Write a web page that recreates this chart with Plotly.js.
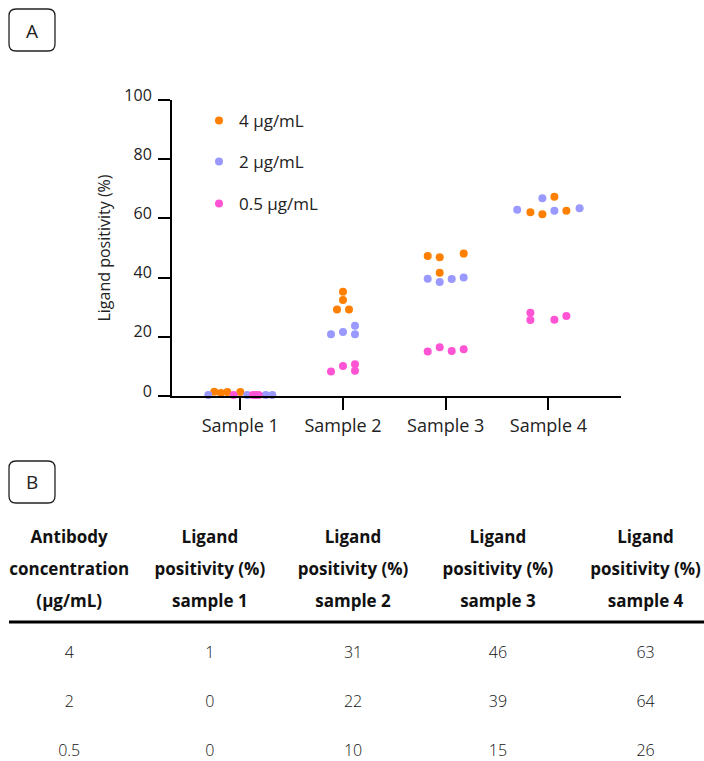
<!DOCTYPE html>
<html>
<head>
<meta charset="utf-8">
<script src="https://cdn.plot.ly/plotly-3.0.1.min.js"></script>
<style>
html,body{margin:0;padding:0;background:#fff;overflow:hidden}
#wrap{width:704px;height:761px;overflow:hidden;position:relative;background:#fff}
#chart{width:722px;height:790px}
#err{position:absolute;left:10px;top:680px;color:red;font:12px monospace}
</style>
</head>
<body>
<div id="wrap"><div id="chart"></div><div id="err"></div></div>
<script>
// ---------- data ----------
const samples = ["Sample 1", "Sample 2", "Sample 3", "Sample 4"];
const concLabels = ["4 µg/mL", "2 µg/mL", "0.5 µg/mL"];
const yTicks = [0, 20, 40, 60, 80, 100];

// ligand positivity (%) per sample, 4 replicates each
const pos4  = [[1.45, 1.0, 1.35, 1.35], [35.2, 32.4, 29.2, 29.2], [47.3, 46.9, 48.1, 41.6], [67.3, 62.1, 61.4, 62.6]];
const pos2  = [[0.3, 0.3, 0.3, 0.3],    [20.9, 21.6, 23.75, 20.9], [39.6, 38.5, 39.5, 40.0], [66.8, 62.9, 62.6, 63.4]];
const pos05 = [[0.3, 0.3, 0.3, 0.3],    [8.3, 10.1, 10.7, 8.5],    [15.0, 16.5, 15.2, 15.8], [28.1, 25.7, 25.8, 27.0]];

// swarm slot of each replicate (horizontal spread, in point widths)
const swarm4  = [[-2.17, -1.61, -1.08, 0], [0, 0, -0.5, 0.5], [-1.5, -0.5, 1.5, -0.5], [0.5, -1.5, -0.5, 1.5]];
const swarm2  = [[-2.67, 0.58, 2.12, 2.67], [-1, 0, 1, 1], [-1.5, -0.5, 0.5, 1.5], [-0.5, -2.6, 0.5, 2.6]];
const swarm05 = [[-0.55, 1.06, 1.28, 1.53], [-1, 0, 1, 1], [-1.5, -0.5, 0.5, 1.5], [-1.5, -1.5, 0.5, 1.5]];

// summary table
const NB = "\u00a0";
const tableHeader = [
  ["Antibody", "concentration", "(µg/mL)"],
  ["Ligand", "positivity (%)", "sample 1"],
  ["Ligand", "positivity (%)", "sample 2"],
  ["Ligand", "positivity (%)", "sample 3"],
  ["Ligand", "positivity (%)", "sample 4"]
];
const tableConc = ["4", "2", "0.5"];
const tableS1 = [1, 0, 0];
const tableS2 = [31, 22, 10];
const tableS3 = [46, 39, 15];
const tableS4 = [63, 64, 26];

// ---------- styling ----------
const colors = ["#ff8000", "#9999ff", "#ff55d4"];
const FONT = "'Open Sans', Lato, sans-serif";
const W = 722, H = 790;
const px = v => v / W;
const py = v => 1 - v / H;
const SLOT = 0.1168;

const series = [pos4, pos2, pos05];
const swarms = [swarm4, swarm2, swarm05];
const legendIds = ["legend", "legend2", "legend3"];

const traces = series.map((vals, c) => {
  const x = [], y = [];
  vals.forEach((reps, s) => {
    reps.forEach((v, r) => {
      x.push(s + swarms[c][s][r] * SLOT);
      y.push(v);
    });
  });
  return {
    type: "scatter", mode: "markers", name: concLabels[c],
    x: x, y: y, cliponaxis: false,
    marker: {size: 8, color: colors[c]},
    legend: legendIds[c], hoverinfo: "skip"
  };
});

const noLine = {color: "rgba(0,0,0,0)", width: 0};
const colW = [138.5, 143, 143.5, 146.5, 149];
traces.push({
  type: "table",
  domain: {x: [0, 720.5 / W], y: [py(622), py(522)]},
  columnwidth: colW,
  header: {
    values: tableHeader.map(col => col.map(t => t.replace(/ /g, NB))),
    height: 32, align: "center",
    fill: {color: "white"}, line: noLine,
    font: {family: FONT, size: 17, color: "#111", weight: "bold"}
  },
  cells: {values: [[NB], [NB], [NB], [NB], [NB]], height: 1, fill: {color: "white"}, line: noLine}
});
traces.push({
  type: "table",
  domain: {x: [0, 720.5 / W], y: [0, py(624)]},
  columnwidth: colW,
  header: {values: [[NB], [NB], [NB], [NB], [NB]], height: 13.7, fill: {color: "white"}, line: noLine,
           font: {family: FONT, size: 8, color: "#fff"}},
  cells: {
    values: [tableConc, tableS1, tableS2, tableS3, tableS4],
    height: 49, align: "center",
    fill: {color: "white"}, line: noLine,
    font: {family: FONT, size: 16, color: "#111", weight: 300}
  }
});

function roundRect(x0, y0, x1, y1, r) {
  const P = (a, b) => px(a) + "," + py(b);
  return "M" + P(x0 + r, y0) + " L" + P(x1 - r, y0) + " Q" + P(x1, y0) + " " + P(x1, y0 + r) +
    " L" + P(x1, y1 - r) + " Q" + P(x1, y1) + " " + P(x1 - r, y1) +
    " L" + P(x0 + r, y1) + " Q" + P(x0, y1) + " " + P(x0, y1 - r) +
    " L" + P(x0, y0 + r) + " Q" + P(x0, y0) + " " + P(x0 + r, y0) + " Z";
}

const legendBase = (yc) => ({
  x: px(199), y: py(yc), xanchor: "left", yanchor: "middle",
  bgcolor: "rgba(0,0,0,0)", borderwidth: 0,
  font: {family: FONT, size: 17, color: "#222"}, itemclick: false, itemdoubleclick: false
});

const layout = {
  width: W, height: H,
  margin: {l: 0, r: 0, t: 0, b: 0},
  paper_bgcolor: "#fff", plot_bgcolor: "#fff",
  font: {family: FONT, size: 16, color: "#222"},
  showlegend: true,
  legend: legendBase(121),
  legend2: legendBase(162),
  legend3: legendBase(204),
  xaxis: {
    domain: [px(172), px(621)], range: [-0.665, 3.707],
    tickvals: [0, 1, 2, 3], ticktext: samples,
    ticks: "outside", ticklen: 12, tickwidth: 2, tickcolor: "#000",
    showline: true, linewidth: 2, linecolor: "#000",
    showgrid: false, zeroline: false, fixedrange: true,
    tickfont: {family: FONT, size: 18, color: "#222"}, ticklabelstandoff: 0
  },
  yaxis: {
    domain: [py(396), py(100)], range: [0, 100],
    tickvals: yTicks, ticks: "outside", ticklen: 12, tickwidth: 2, tickcolor: "#000",
    showline: true, linewidth: 2, linecolor: "#000",
    showgrid: false, zeroline: false, fixedrange: true,
    tickfont: {family: FONT, size: 16, color: "#222"},
    ticklabelshift: -5, ticklabelstandoff: 3,
    title: {text: "Ligand positivity (%)", font: {family: FONT, size: 16, color: "#222"}, standoff: 10}
  },
  shapes: [
    {type: "path", xref: "paper", yref: "paper", path: roundRect(9, 9, 55, 51, 7), line: {color: "#222", width: 1.3}},
    {type: "path", xref: "paper", yref: "paper", path: roundRect(9, 461, 55, 503, 7), line: {color: "#222", width: 1.3}},
    {type: "line", xref: "paper", yref: "paper", x0: px(9), x1: px(704), y0: py(622), y1: py(622), line: {color: "#000", width: 3}}
  ],
  annotations: [
    {text: "A", xref: "paper", yref: "paper", x: px(32), y: py(31), showarrow: false, xanchor: "center", yanchor: "middle", font: {family: FONT, size: 19, color: "#222"}},
    {text: "B", xref: "paper", yref: "paper", x: px(32), y: py(482), showarrow: false, xanchor: "center", yanchor: "middle", font: {family: FONT, size: 19, color: "#222"}}
  ]
};

Plotly.newPlot("chart", traces, layout, {displayModeBar: false, staticPlot: true})
  .catch(e => { document.getElementById("err").textContent = "ERR: " + e; });
window.addEventListener("error", e => { document.getElementById("err").textContent = "ERR: " + e.message; });
</script>
</body>
</html>
